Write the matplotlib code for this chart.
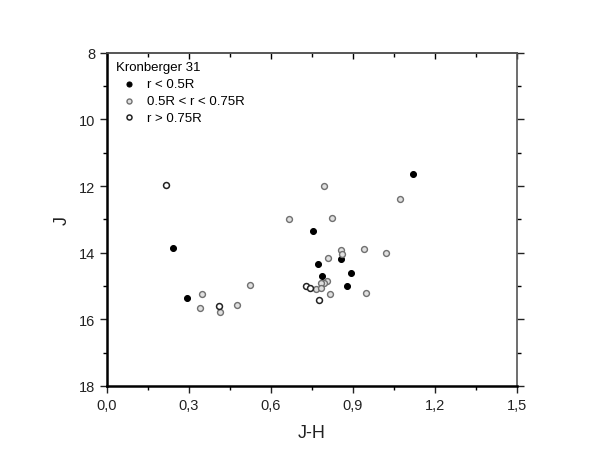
import matplotlib
matplotlib.use("Agg")
import matplotlib.pyplot as plt
from matplotlib.ticker import MultipleLocator, FixedLocator, FixedFormatter

plt.rcParams['font.family'] = ['Liberation Sans', 'DejaVu Sans']

title = "Kronberger 31"
labels = ["r < 0.5R", "0.5R < r < 0.75R", "r > 0.75R"]

# r < 0.5R (black)
inner_jh = [0.240, 0.292, 1.120, 0.756, 0.855, 0.774, 0.893, 0.787, 0.878]
inner_j  = [13.85, 15.35, 11.63, 13.35, 14.18, 14.34, 14.61, 14.70, 15.01]

# 0.5R < r < 0.75R (gray)
mid_jh = [0.666, 0.522, 0.349, 0.340, 0.412, 0.475, 0.796, 1.072, 0.823,
          0.857, 0.862, 0.942, 1.022, 0.809, 0.804, 0.794, 0.782, 0.764,
          0.783, 0.815, 0.950]
mid_j  = [12.98, 14.96, 15.24, 15.66, 15.77, 15.56, 12.01, 12.40, 12.95,
          13.92, 14.03, 13.90, 14.02, 14.16, 14.85, 14.91, 14.92, 15.09,
          15.05, 15.23, 15.21]

# r > 0.75R (open)
outer_jh = [0.215, 0.411, 0.727, 0.743, 0.778]
outer_j  = [11.98, 15.59, 15.01, 15.06, 15.42]

xticks = [0.0, 0.3, 0.6, 0.9, 1.2, 1.5]
xticklabels = ["0,0", "0,3", "0,6", "0,9", "1,2", "1,5"]
yticks = [8, 10, 12, 14, 16, 18]
yticklabels = ["8", "10", "12", "14", "16", "18"]

fig = plt.figure(figsize=(5.99, 4.64), dpi=100)
ax = fig.add_axes([0.1786, 0.166, 0.684, 0.718])

ms = 18
h1 = ax.scatter(inner_jh, inner_j, s=ms, facecolor='black', edgecolor='black', linewidths=0.8, zorder=3)
h2 = ax.scatter(mid_jh, mid_j, s=ms, facecolor='#e0e0e0', edgecolor='#707070', linewidths=1.0, zorder=3)
h3 = ax.scatter(outer_jh, outer_j, s=ms, facecolor='white', edgecolor='#222222', linewidths=1.1, zorder=3)

ax.set_xlim(0.0, 1.5)
ax.set_ylim(18, 8)

ax.xaxis.set_major_locator(FixedLocator(xticks))
ax.xaxis.set_major_formatter(FixedFormatter(xticklabels))
ax.xaxis.set_minor_locator(MultipleLocator(0.15))
ax.yaxis.set_major_locator(FixedLocator(yticks))
ax.yaxis.set_major_formatter(FixedFormatter(yticklabels))
ax.yaxis.set_minor_locator(MultipleLocator(1))

ax.tick_params(axis='both', which='major', direction='out', length=5, width=1.0,
               labelsize=10.5, colors='#222222')
ax.tick_params(axis='both', which='minor', direction='out', length=3, width=1.0)
ax.tick_params(axis='y', which='both', right=True)
ax.tick_params(axis='x', which='both', bottom=True, top=False)

for side in ['left', 'bottom']:
    ax.spines[side].set_linewidth(1.8)
    ax.spines[side].set_color('black')
for side in ['top', 'right']:
    ax.spines[side].set_linewidth(1.2)
    ax.spines[side].set_color('#555555')

ax2 = ax.secondary_xaxis('top')
ax2.set_xticks(xticks)
ax2.set_xticklabels([])
ax2.xaxis.set_minor_locator(MultipleLocator(0.15))
ax2.tick_params(axis='x', which='major', direction='in', length=4, width=1.0)
ax2.tick_params(axis='x', which='minor', direction='in', length=3, width=1.0)
ax2.spines['top'].set_linewidth(1.2)
ax2.spines['top'].set_color('#555555')

ax.set_xlabel("J-H", fontsize=13, color='#222222', labelpad=9)
ax.set_ylabel("J", fontsize=13, color='#222222', labelpad=6)

leg = ax.legend([h1, h2, h3], labels, title=title, loc='upper left',
                bbox_to_anchor=(0.0, 1.0),
                frameon=False, fontsize=9.5, title_fontsize=9.5,
                handletextpad=0.4, borderaxespad=0.25, labelspacing=0.35,
                handlelength=2.0, markerscale=0.85)
leg._legend_box.align = "left"

fig.savefig("out.png", dpi=100)
